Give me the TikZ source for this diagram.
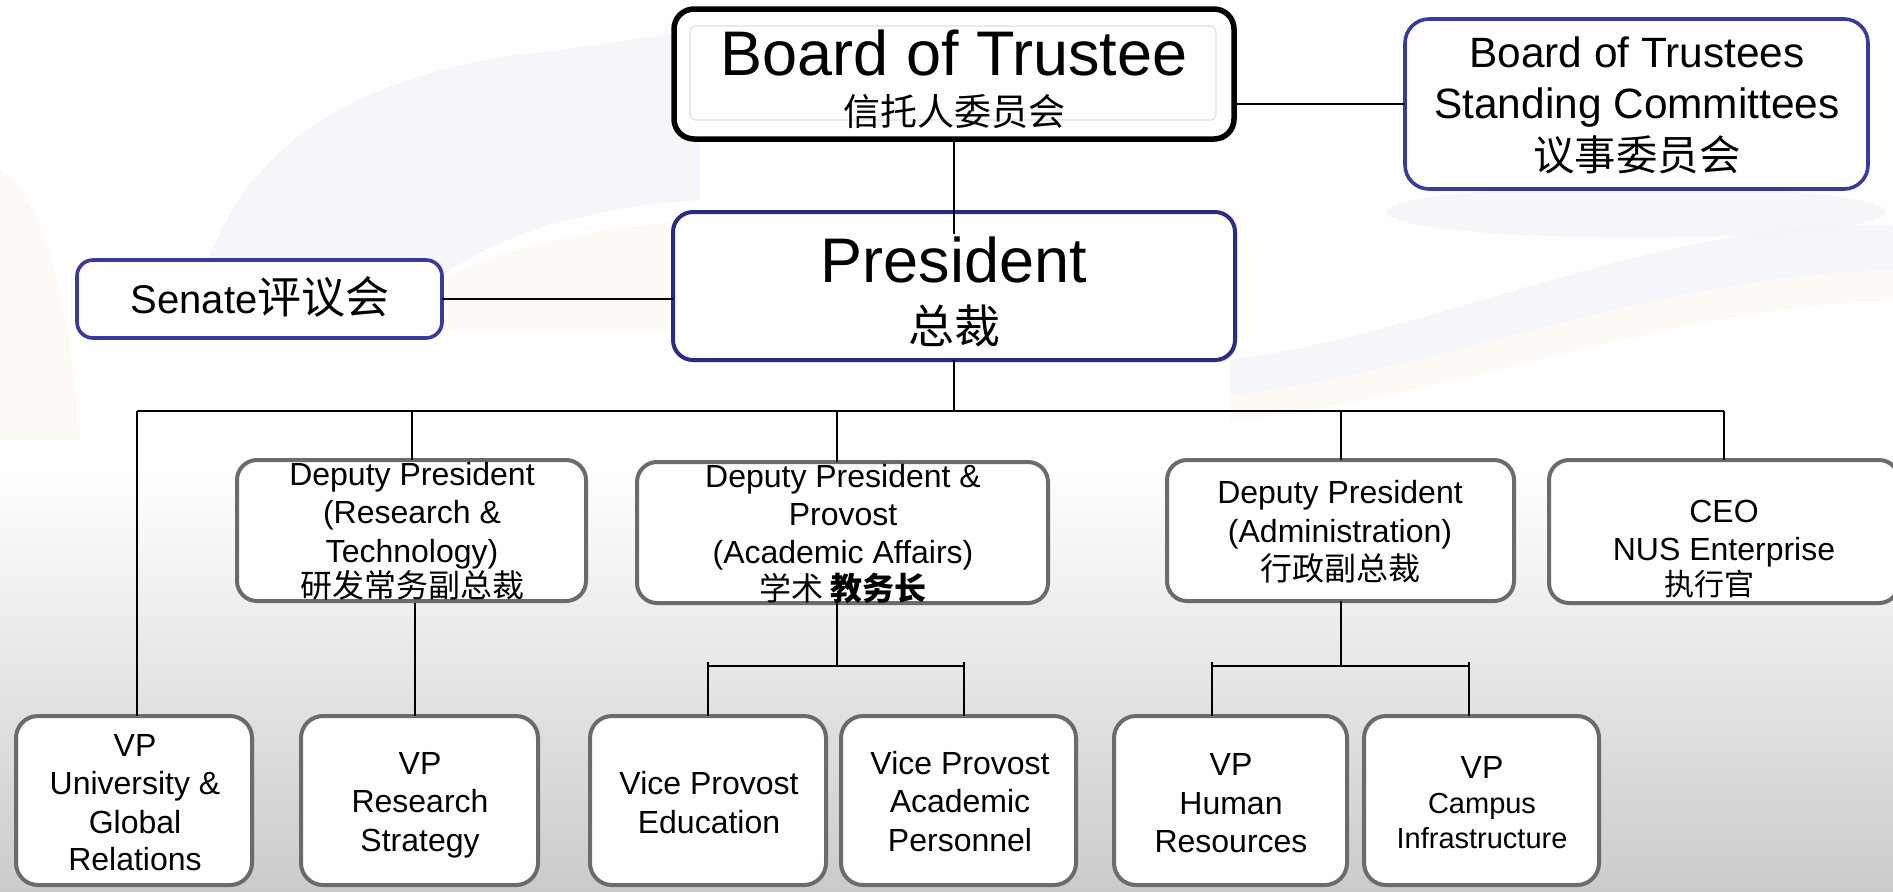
\documentclass[tikz,border=0pt]{standalone}
\usepackage{fontspec}
\setmainfont{Liberation Sans}
\newfontfamily\cjk{Noto Sans CJK SC}
\usetikzlibrary{shadows}
\definecolor{navy}{HTML}{3A3A9C}
\definecolor{navyd}{HTML}{2C2C7E}
\definecolor{boxgray}{HTML}{6B6B6B}
\definecolor{wmblue}{HTML}{F1F4F9}
\definecolor{wmorange}{HTML}{FDF8F1}
\definecolor{bgmid}{HTML}{F0ECE7}
\definecolor{bgbot}{HTML}{CBCBCB}
\tikzset{
  every node/.style={inner sep=0pt, outer sep=0pt},
  orgbox/.style={rectangle, draw=boxgray, line width=2pt, fill=white, rounded corners=10pt},
  vpbox/.style={orgbox, rounded corners=11pt, minimum height=84.5pt},
  navybox/.style={rectangle, draw=navy, line width=1.8pt, fill=white, rounded corners=12pt},
  conn/.style={line width=1pt, black},
  busline/.style={line width=1.3pt, black},
  txt/.style={anchor=base, font=\fontsize{16}{19}\selectfont},
  wm/.style={opacity=0.75},
}
\begin{document}
\begin{tikzpicture}[x=0.5pt,y=-0.5pt]
\useasboundingbox (0,0) rectangle (1893,891);
\clip (0,0) rectangle (1893,891);
% background
\fill[white] (0,0) rectangle (1893,891);
\shade[top color=white, middle color=bgmid, bottom color=bgbot] (0,470) rectangle (1893,891);
\fill[wmblue, wm] (200,290) .. controls (230,160) and (340,70) .. (560,50) -- (700,30) -- (700,200) .. controls (560,210) and (430,250) .. (390,340) -- cycle;
\fill[wmorange, wm] (0,170) .. controls (40,190) and (70,300) .. (80,440) -- (0,440) -- cycle;
\fill[wmorange, wm] (390,330) .. controls (430,260) and (560,230) .. (700,220) -- (700,330) -- cycle;
\fill[wmblue, wm] (1230,360) .. controls (1450,330) and (1650,220) .. (1893,225) -- (1893,270) .. controls (1650,275) and (1450,370) .. (1230,395) -- cycle;
\fill[wmorange, wm] (1230,395) .. controls (1450,370) and (1650,275) .. (1893,270) -- (1893,300) .. controls (1650,310) and (1450,400) .. (1230,420) -- cycle;
\fill[wmblue, wm] (1636,212) ellipse (250 and 26);

% top boxes
\node[rectangle, draw=black, line width=2.75pt, fill=white, rounded corners=10pt,
      minimum width=280pt, minimum height=65pt,
      drop shadow={opacity=0.25, shadow xshift=1.2pt, shadow yshift=-1.2pt}] (bot) at (954,74) {};
\node[rectangle, draw=gray!25, line width=0.6pt, rounded corners=3pt,
      minimum width=263pt, minimum height=47pt] (botin) at (953,73) {};
\node[rectangle, draw=navyd, line width=2pt, fill=white, rounded corners=10pt,
      minimum width=281pt, minimum height=74pt,
      drop shadow={opacity=0.25, shadow xshift=1.2pt, shadow yshift=-1.2pt}] (pres) at (954,286) {};
\node[navybox, minimum width=231.5pt, minimum height=85pt] (sc) at (1636.5,104) {};
\node[navybox, rounded corners=8pt, minimum width=182.5pt, minimum height=39pt] (senate) at (259.5,299) {};

% second row
\node[orgbox, minimum width=174.5pt, minimum height=70.5pt] (dprt) at (411.5,530.5) {};
\node[orgbox, minimum width=205.5pt, minimum height=70.5pt] (dpp) at (842.5,532.5) {};
\node[orgbox, minimum width=173.5pt, minimum height=70.5pt] (dpa) at (1340.5,530.5) {};
\node[orgbox, minimum width=175pt, minimum height=71.5pt] (ceo) at (1724,531.5) {};

% third row
\node[vpbox, minimum width=118pt] (vpu) at (134,800.5) {};
\node[vpbox, minimum width=118.5pt] (vprs) at (419.5,800.5) {};
\node[vpbox, minimum width=118pt] (vpe) at (708,800.5) {};
\node[vpbox, minimum width=117.5pt] (vpap) at (958.5,800.5) {};
\node[vpbox, minimum width=116.5pt] (vphr) at (1230.5,800.5) {};
\node[vpbox, minimum width=117.5pt] (vpci) at (1481.5,800.5) {};

% connector coordinates
\coordinate (presin) at (954,234);
\coordinate (busL) at (137,411);
\coordinate (busR) at (1724,411);
\coordinate (dppbar) at (837,666);
\coordinate (dpptick) at (837,662);
\coordinate (hrdrop) at (1212,666);
\coordinate (cidrop) at (1469,666);
\coordinate (dpatick) at (1340,662);

% connectors
\draw[conn] (bot.south) -- (presin);
\draw[conn] (bot.east |- sc.west) -- (sc.west);
\draw[conn] (senate.east) -- (senate.east -| pres.west);
\draw[conn] (pres.south) -- (pres.south |- busL);
\draw[conn] (busL) -- (busR);
\draw[conn] (busL) -- (busL |- vpu.north);
\draw[conn] (dprt.north |- busL) -- (dprt.north);
\draw[conn] (dppbar |- busL) -- (dppbar |- dpp.north);
\draw[conn] (dpa.north |- busL) -- (dpa.north);
\draw[conn] (busR) -- (ceo.north);
\draw[conn] (415,603) coordinate (rsfrom) -- (rsfrom |- vprs.north);
\draw[conn] (dppbar |- dpp.south) -- (dppbar);
\draw[busline] (vpe.north |- dppbar) -- (964,666) coordinate (apdrop);
\draw[conn] (vpe.north |- dpptick) -- (vpe.north);
\draw[conn] (apdrop |- dpptick) -- (apdrop |- vpap.north);
\draw[conn] (dpa.south) -- (dpa.south |- hrdrop);
\draw[busline] (hrdrop) -- (cidrop);
\draw[conn] (hrdrop |- dpatick) -- (hrdrop |- vphr.north);
\draw[conn] (cidrop |- dpatick) -- (cidrop |- vpci.north);

% texts: top
\node[txt, font=\fontsize{31.5}{36}\selectfont] (bot-l1) at (954,75) {Board of Trustee};
\node[txt] (bot-l2) at (954,125) {\cjk\fontsize{18.5}{22}\selectfont 信托人委员会};
\node[txt, font=\fontsize{31.5}{36}\selectfont] (pres-l1) at (954,282) {President};
\node[txt] (pres-l2) at (954,343) {\cjk\fontsize{23}{26}\selectfont 总裁};
\node[txt, font=\fontsize{21.2}{25}\selectfont] (sc-l1) at (1637,67) {Board of Trustees};
\node[txt, font=\fontsize{21.2}{25}\selectfont] (sc-l2) at (1637,118) {Standing Committees};
\node[txt] (sc-l3) at (1637,170) {\cjk\fontsize{20.7}{24}\selectfont 议事委员会};
\node[txt, font=\fontsize{20}{24}\selectfont] (senate-l1) at (260,313) {Senate{\cjk\fontsize{22}{24}\selectfont 评议会}};

% texts: second row
\node[txt] (dprt-l1) at (412,485) {Deputy President};
\node[txt] (dprt-l2) at (412,523) {(Research \&};
\node[txt] (dprt-l3) at (412,562) {Technology)};
\node[txt] (dprt-l4) at (412,597) {\cjk 研发常务副总裁};
\node[txt] (dpp-l1) at (843,487) {Deputy President \&};
\node[txt] (dpp-l2) at (843,525) {Provost};
\node[txt] (dpp-l3) at (843,563) {(Academic Affairs)};
\node[txt] (dpp-l4) at (843,600) {\cjk 学术 {\bfseries 教务长}};
\node[txt] (dpa-l1) at (1340,503) {Deputy President};
\node[txt] (dpa-l2) at (1340,542) {(Administration)};
\node[txt] (dpa-l3) at (1340,580) {\cjk 行政副总裁};
\node[txt] (ceo-l1) at (1724,522) {CEO};
\node[txt] (ceo-l2) at (1724,560) {NUS Enterprise};
\node[txt] (ceo-l3) at (1709,595) {\cjk\fontsize{15}{18}\selectfont 执行官};

% texts: third row
\node[txt] (vpu-l1) at (135,756) {VP};
\node[txt] (vpu-l2) at (135,794) {University \&};
\node[txt] (vpu-l3) at (135,833) {Global};
\node[txt] (vpu-l4) at (135,870) {Relations};
\node[txt] (vprs-l1) at (420,774) {VP};
\node[txt] (vprs-l2) at (420,812) {Research};
\node[txt] (vprs-l3) at (420,851) {Strategy};
\node[txt] (vpe-l1) at (709,794) {Vice Provost};
\node[txt] (vpe-l2) at (709,833) {Education};
\node[txt] (vpap-l1) at (960,774) {Vice Provost};
\node[txt] (vpap-l2) at (960,812) {Academic};
\node[txt] (vpap-l3) at (960,851) {Personnel};
\node[txt] (vphr-l1) at (1231,775) {VP};
\node[txt] (vphr-l2) at (1231,814) {Human};
\node[txt] (vphr-l3) at (1231,852) {Resources};
\node[txt] (vpci-l1) at (1482,778) {VP};
\node[txt, font=\fontsize{14.5}{17}\selectfont] (vpci-l2) at (1482,813) {Campus};
\node[txt, font=\fontsize{14.5}{17}\selectfont] (vpci-l3) at (1482,848) {Infrastructure};
\end{tikzpicture}
\end{document}
